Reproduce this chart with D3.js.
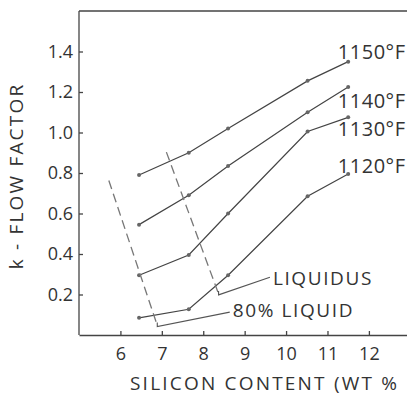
<!DOCTYPE html>
<html>
<head>
<meta charset="utf-8">
<script src="https://cdn.jsdelivr.net/npm/d3@7"></script>
<style>
  body { margin: 0; background: #fff; }
  svg text { font-family: 'Open Sans', 'Liberation Sans', sans-serif; fill: #333; }
  .axis path, .axis line { stroke: #444; stroke-width: 1.3; }
  .series { fill: none; stroke: #444; stroke-width: 1.2; }
  .dash { fill: none; stroke: #777; stroke-width: 1.3; stroke-dasharray: 9 5; }
  .leader { fill: none; stroke: #555; stroke-width: 1.1; }
</style>
</head>
<body>
<div id="chart"></div>
<script>
// silicon content (wt %) of the measured alloys
const silicon = [6.45, 7.65, 8.6, 10.52, 11.5];

// k - flow factor for each temperature
const k1150 = [0.79, 0.90, 1.02, 1.255, 1.35];
const k1140 = [0.545, 0.69, 0.835, 1.10, 1.225];
const k1130 = [0.295, 0.395, 0.60, 1.005, 1.075];
const k1120 = [0.085, 0.127, 0.295, 0.685, 0.795];
const temps = ['1150°F', '1140°F', '1130°F', '1120°F'];

// boundary lines [silicon, k]
const liquid80 = [[5.72, 0.763], [6.89, 0.047]];
const liquidus = [[7.11, 0.903], [8.37, 0.203]];

const xTicks = [6, 7, 8, 9, 10, 11, 12];
const xTickLabels = ['6', '7', '8', '9', '10', '11', '12'];
const yTicks = [0.2, 0.4, 0.6, 0.8, 1.0, 1.2, 1.4];
const yTickLabels = ['0.2', '0.4', '0.6', '0.8', '1.0', '1.2', '1.4'];

const width = 407;
const height = 395;
const margin = {top: 11, right: 0, bottom: 60, left: 79};

const svg = d3.select('#chart')
              .append('svg')
              .attr('width', width)
              .attr('height', height);

const x = d3.scaleLinear()
            .domain([5, 12.92])
            .range([margin.left, width - margin.right]);

const y = d3.scaleLinear()
            .domain([0, 1.6])
            .range([height - margin.bottom, margin.top]);

// frame top
svg.append('line')
   .attr('x1', x(5)).attr('x2', width)
   .attr('y1', y(1.6)).attr('y2', y(1.6))
   .attr('stroke', '#444').attr('stroke-width', 1.3);

// x axis, ticks pointing inward
const xAxis = svg.append('g')
   .attr('class', 'axis')
   .attr('transform', `translate(0, ${y(0)})`)
   .call(d3.axisTop(x)
           .tickValues(xTicks)
           .tickSizeInner(4)
           .tickSizeOuter(0)
           .tickFormat((d, i) => xTickLabels[i]));
xAxis.selectAll('text')
     .attr('y', 12)
     .attr('dy', '0.71em')
     .style('font-size', '18px');

// y axis, ticks pointing inward
const yAxis = svg.append('g')
   .attr('class', 'axis')
   .attr('transform', `translate(${x(5)}, 0)`)
   .call(d3.axisRight(y)
           .tickValues(yTicks)
           .tickSizeInner(4)
           .tickSizeOuter(0)
           .tickFormat((d, i) => yTickLabels[i]));
yAxis.selectAll('text')
     .attr('x', -6)
     .attr('text-anchor', 'end')
     .style('font-size', '18px');
yAxis.select('.domain').attr('d', `M0,${y(0)}V${y(1.6)}`);

// axis titles (the original print is trimmed after the % sign)
svg.append('text')
   .attr('x', 130)
   .attr('y', 390)
   .style('font-size', '19px')
   .style('letter-spacing', '2.2px')
   .text('SILICON CONTENT (WT %');

svg.append('text')
   .attr('transform', `translate(23, 176) rotate(-90)`)
   .attr('text-anchor', 'middle')
   .style('font-size', '19px')
   .style('letter-spacing', '2.2px')
   .text('k - FLOW FACTOR');

const line = d3.line()
               .x(d => x(d[0]))
               .y(d => y(d[1]));

const series = [k1150, k1140, k1130, k1120];
const labelY = [1.40, 1.155, 1.015, 0.835];

series.forEach((vals, i) => {
  const pts = silicon.map((s, j) => [s, vals[j]]);
  svg.append('path')
     .datum(pts)
     .attr('class', 'series')
     .attr('d', line);
  svg.selectAll(null)
     .data(pts)
     .enter()
     .append('circle')
     .attr('cx', d => x(d[0]))
     .attr('cy', d => y(d[1]))
     .attr('r', 2)
     .attr('fill', '#666');
  svg.append('text')
     .attr('x', x(11.25))
     .attr('y', y(labelY[i]))
     .attr('dy', '0.35em')
     .style('font-size', '20px')
     .style('letter-spacing', '0.5px')
     .text(temps[i]);
});

// boundaries
[liquid80, liquidus].forEach(b => {
  svg.append('path')
     .datum(b)
     .attr('class', 'dash')
     .attr('d', line);
});

// leader lines to the boundary labels
const leaders = [
  {from: liquidus[1], to: [9.61, 0.285], text: 'LIQUIDUS', ty: 0.28},
  {from: liquid80[1], to: [8.64, 0.113], text: '80% LIQUID', ty: 0.12}
];
leaders.forEach(l => {
  const x0 = x(l.from[0]);
  const y0 = y(l.from[1]);
  svg.append('path')
     .attr('class', 'leader')
     .attr('d', `M${x0},${y0 - 3}V${y0 + 1}L${x(l.to[0])},${y(l.to[1])}`);
  svg.append('text')
     .attr('x', x(l.to[0]) + 3)
     .attr('y', y(l.ty))
     .attr('dy', '0.35em')
     .style('font-size', '19px')
     .style('letter-spacing', '1.6px')
     .text(l.text);
});
</script>
</body>
</html>
